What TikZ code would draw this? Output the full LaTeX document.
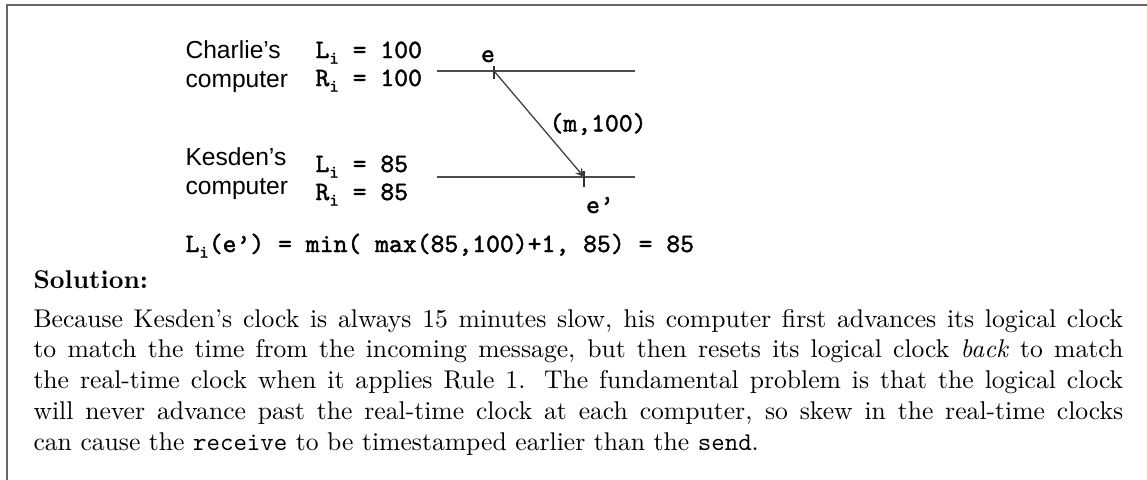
\documentclass[tikz,border=0pt]{standalone}
\usepackage{fontspec}
\usepackage{tikz}
\newfontfamily\diagsans{Liberation Sans}
\newfontfamily\diagmono[Extension=.otf, FakeBold=1.6]{lmmono10-regular}
\newcommand{\lowi}{\raisebox{-0.5ex}{\fontsize{7}{7}\selectfont i}}
\tikzset{
  sanslabel/.style={font=\diagsans\fontsize{9.6}{11}\selectfont, inner sep=0pt, anchor=base west},
  monolabel/.style={font=\diagmono\fontsize{10.3}{12}\selectfont, inner sep=0pt, anchor=base west},
  timeline/.style={black!70, line width=0.6pt},
  tick/.style={black!80, line width=0.6pt}
}

\begin{document}
\begin{tikzpicture}[x=0.39pt, y=-0.39pt]
    \useasboundingbox (0,0) rectangle (1147,480);

    % Frame
    \draw[black!60, line width=0.9pt] (1147,5) -- (7,5) -- (7,480);

    % Computer labels
    \node[sanslabel] (charlie) at (185,59) {Charlie’s};
    \node[sanslabel] (charliepc) at (185,87) {computer};
    \node[sanslabel] (kesden) at (185,165) {Kesden’s};
    \node[sanslabel] (kesdenpc) at (185,194) {computer};

    % Clock values
    \node[monolabel] (cl) at (315,58) {L\lowi{} = 100};
    \node[monolabel] (cr) at (315,86) {R\lowi{} = 100};
    \node[monolabel] (kl) at (315,172) {L\lowi{} = 85};
    \node[monolabel] (kr) at (315,200) {R\lowi{} = 85};

    % Time lines
    \coordinate (c0) at (437,71);
    \coordinate (c1) at (635,71);
    \coordinate (k0) at (437,177);
    \coordinate (k1) at (635,177);
    \draw[timeline] (c0) -- (c1);
    \draw[timeline] (k0) -- (k1);

    % Events
    \coordinate (e) at (494,71);
    \coordinate (e2) at (584,177);
    \draw[tick] (494,66) -- (494,79);
    \draw[tick] (584,171) -- (584,187);
    \node[monolabel, anchor=base] (elab) at (488,62) {e};
    \node[monolabel, anchor=base] (e2lab) at (600,213) {e’};

    % Message
    \draw[black!75, line width=0.5pt, ->, >=stealth] (e) -- (e2);
    \node[monolabel, anchor=west] (msg) at (549,124) {(m,100)};

    % Rule
    \node[monolabel] (rule) at (185,252)
        {L\lowi(e’) = min( max(85,100)+1, 85) = 85};

    % Solution text
    \node[inner sep=0pt, anchor=base west, font=\bfseries] (sol) at (33,288) {Solution:};
    \node[inner sep=0pt, anchor=base west, text width=425pt, align=justify] (body) at (33,327)
        {Because Kesden's clock is always 15 minutes slow, his computer first advances its logical clock\linebreak
         to match the time from the incoming message, but then resets its logical clock \emph{back} to match\linebreak
         the real-time clock when it applies Rule 1. The fundamental problem is that the logical clock\linebreak
         will never advance past the real-time clock at each computer, so skew in the real-time clocks\linebreak
         can cause the \texttt{receive} to be timestamped earlier than the \texttt{send}.};
\end{tikzpicture}
\end{document}
